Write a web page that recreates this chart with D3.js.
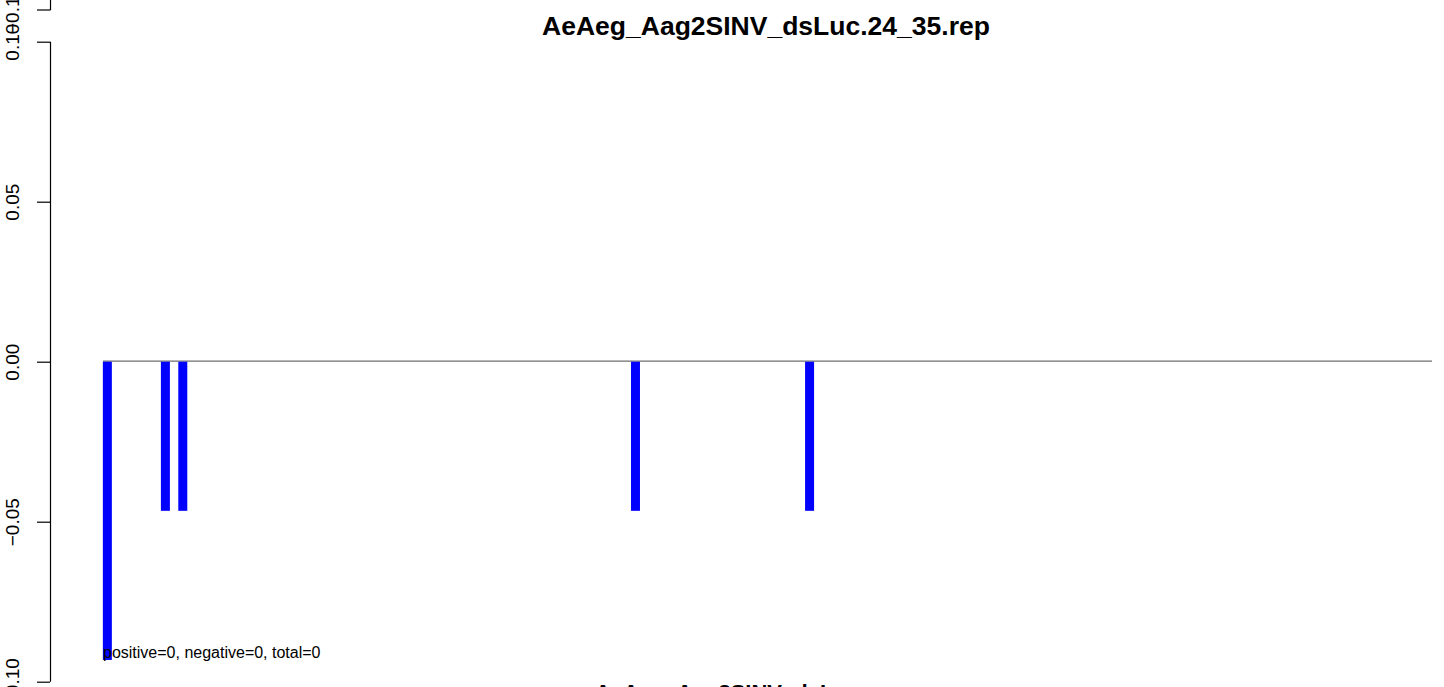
<!DOCTYPE html>
<html>
<head>
<meta charset="utf-8">
<script src="https://cdn.jsdelivr.net/npm/d3@7"></script>
<style>
html, body { margin: 0; padding: 0; background: #fff; }
svg { display: block; font-family: "Liberation Sans", Arial, Helvetica, sans-serif; }
</style>
</head>
<body>
<svg id="chart" width="1444" height="687"></svg>
<script>
// ---- data ----
const positions = [2, 22, 28, 184, 244];
const values = [-0.0932, -0.0466, -0.0466, -0.0466, -0.0466];
const xDomain = [0.5, 458.5];
const yTicks = [-0.10, -0.05, 0.00, 0.05, 0.10];
const yTickLabels = ["\u22120.10", "\u22120.05", "0.00", "0.05", "0.10"];
const upperPanelTick = "\u22120.10";
const titleText = "AeAeg_Aag2SINV_dsLuc.24_35.rep";
const xLabelText = "AeAeg_Aag2SINV_dsLuc";
const summaryText = "positive=0, negative=0, total=0";

// ---- layout ----
const svg = d3.select("#chart");
const axisX = 50;
const x = d3.scaleLinear().domain(xDomain).range([103, 1432]);
const y = d3.scaleLinear().domain([-0.1, 0.1]).range([681.7, 41.7]);
const barW = 9;

// zero line
svg.append("line")
  .attr("x1", x(xDomain[0])).attr("x2", x(xDomain[1]))
  .attr("y1", y(0) - 0.5).attr("y2", y(0) - 0.5)
  .attr("stroke", "#6e6e6e").attr("stroke-width", 1.2);

// bars
svg.append("g").selectAll("rect")
  .data(positions.map((p, i) => ({p, v: values[i]})))
  .join("rect")
  .attr("x", d => x(d.p) - barW / 2)
  .attr("width", barW)
  .attr("y", d => y(Math.max(0, d.v)))
  .attr("height", d => Math.abs(y(d.v) - y(0)))
  .attr("fill", "#0000ff");

// y axis (R style)
const yAxis = d3.axisLeft(y)
  .tickValues(yTicks)
  .tickFormat((d, i) => yTickLabels[i])
  .tickSize(13)
  .tickSizeOuter(0);
const gy = svg.append("g").attr("transform", `translate(${axisX},0)`).call(yAxis);
gy.select(".domain").attr("stroke", "#000").attr("stroke-width", 1.2)
  .attr("d", `M0.5,${y(0.1)}V${y(-0.1)}`);
gy.selectAll(".tick line").attr("stroke", "#000").attr("stroke-width", 1.2);
gy.selectAll(".tick text")
  .attr("font-size", 19)
  .attr("font-family", "Liberation Sans, Arial, sans-serif")
  .attr("fill", "#000")
  .attr("text-anchor", "middle")
  .attr("x", null).attr("dy", null)
  .attr("transform", "translate(-31,0) rotate(-90)");

// fragment of upper panel axis
const upper = svg.append("g").attr("transform", `translate(${axisX},0)`);
upper.append("line").attr("x1", 0.5).attr("x2", 0.5).attr("y1", -5).attr("y2", 10)
  .attr("stroke", "#000").attr("stroke-width", 1.2);
upper.append("line").attr("x1", -13).attr("x2", 0.5).attr("y1", 10).attr("y2", 10)
  .attr("stroke", "#000").attr("stroke-width", 1.2);
upper.append("text")
  .attr("transform", "translate(-31,10) rotate(-90)")
  .attr("text-anchor", "middle")
  .attr("font-size", 19)
  .text(upperPanelTick);

// title
svg.append("text")
  .attr("x", 766).attr("y", 35)
  .attr("text-anchor", "middle")
  .attr("font-size", 26.5).attr("font-weight", "bold")
  .text(titleText);

// x label (mostly cut off)
svg.append("text")
  .attr("x", 727).attr("y", 700)
  .attr("text-anchor", "middle")
  .attr("font-size", 22).attr("font-weight", "bold")
  .text(xLabelText);

// summary text
svg.append("text")
  .attr("x", 103).attr("y", 658)
  .attr("font-size", 16)
  .text(summaryText);
</script>
</body>
</html>
